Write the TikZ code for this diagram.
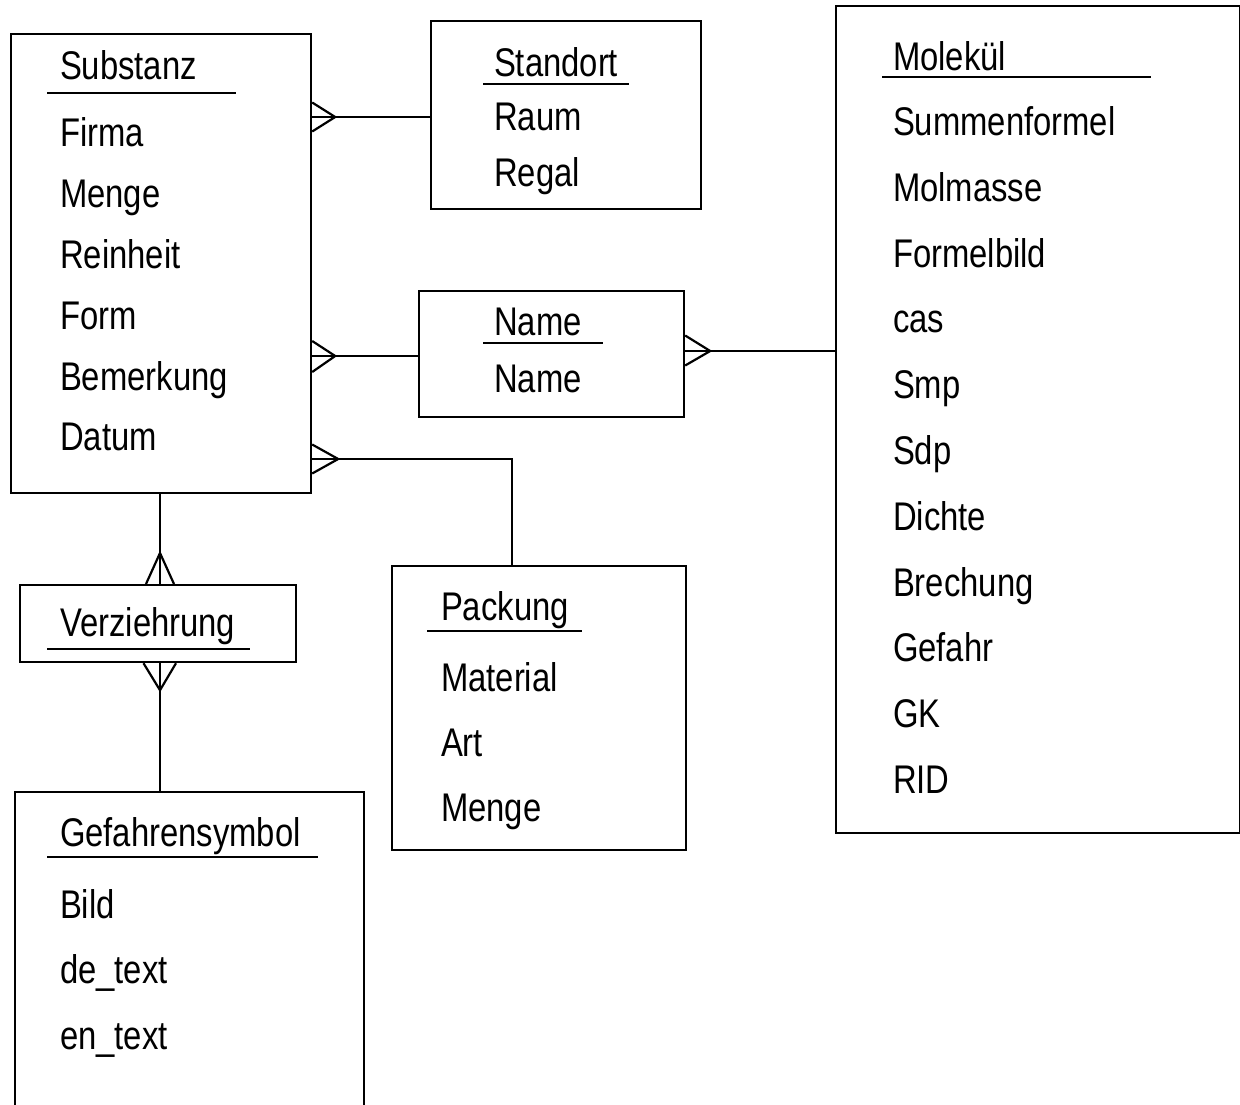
\documentclass[tikz,border=0pt]{standalone}
\usepackage{fontspec}
\setmainfont{Liberation Sans}[FakeStretch=0.82]
\usetikzlibrary{calc}
\begin{document}
\begin{tikzpicture}[x=1pt,y=-1pt,
  every path/.style={line width=2.2pt},
  box/.style={draw, line width=2.2pt, rectangle, inner sep=0pt, anchor=north west},
  lbl/.style={anchor=base west, inner sep=0pt, font=\fontsize{40}{48}\selectfont},
  uline/.style={line width=2.4pt},
  conn/.style={line width=2.2pt}]
\useasboundingbox (0,0) rectangle (1240,1104);
% boxes
\node[box, minimum width=300pt, minimum height=459pt] (sub) at (10,33) {};
\node[box, minimum width=270pt, minimum height=188pt] (std) at (430,20) {};
\node[box, minimum width=265pt, minimum height=126pt] (nam) at (418,290) {};
\node[box, minimum width=404pt, minimum height=827pt] (mol) at (835,5) {};
\node[box, minimum width=276pt, minimum height=77pt] (ver) at (19,584) {};
\node[box, minimum width=294pt, minimum height=284pt] (pac) at (391,565) {};
\node[anchor=north west, inner sep=0pt, minimum width=347pt, minimum height=330pt] (gef) at (15,792) {};
\draw (gef.south west) -- (gef.north west) -- (gef.north east) -- (gef.south east);
% Substanz
\node[lbl] (subT) at (59,79) {Substanz};
\draw[uline] (47,93) -- (236,93);
\node[lbl] (s1) at (59,146) {Firma};
\node[lbl] (s2) at (59,207) {Menge};
\node[lbl] (s3) at (59,268) {Reinheit};
\node[lbl] (s4) at (59,329) {Form};
\node[lbl] (s5) at (59,390) {Bemerkung};
\node[lbl] (s6) at (59,450) {Datum};
% Standort
\node[lbl] (stT) at (493,76) {Standort};
\draw[uline] (483,84) -- (629,84);
\node[lbl] (st1) at (493,130) {Raum};
\node[lbl] (st2) at (493,186) {Regal};
% Name
\node[lbl] (nT) at (493,335) {Name};
\draw[uline] (483,343) -- (603,343);
\node[lbl] (n1) at (493,392) {Name};
% Molekuel
\node[lbl] (mT) at (892,70) {Molekül};
\draw[uline] (882,77) -- (1151,77);
\node[lbl] (m1) at (892,135) {Summenformel};
\node[lbl] (m2) at (892,201) {Molmasse};
\node[lbl] (m3) at (892,267) {Formelbild};
\node[lbl] (m4) at (892,332) {cas};
\node[lbl] (m5) at (892,398) {Smp};
\node[lbl] (m6) at (892,464) {Sdp};
\node[lbl] (m7) at (892,530) {Dichte};
\node[lbl] (m8) at (892,596) {Brechung};
\node[lbl] (m9) at (892,661) {Gefahr};
\node[lbl] (m10) at (892,727) {GK};
\node[lbl] (m11) at (892,793) {RID};
% Verziehrung
\node[lbl] (vT) at (59,636) {Verziehrung};
\draw[uline] (47,649) -- (250,649);
% Packung
\node[lbl] (pT) at (440,620) {Packung};
\draw[uline] (427,631) -- (582,631);
\node[lbl] (p1) at (440,691) {Material};
\node[lbl] (p2) at (440,756) {Art};
\node[lbl] (p3) at (440,821) {Menge};
% Gefahrensymbol
\node[lbl] (gT) at (59,846) {Gefahrensymbol};
\draw[uline] (47,857) -- (318,857);
\node[lbl] (g1) at (59,918) {Bild};
\node[lbl] (g2) at (59,983) {de\_text};
\node[lbl] (g3) at (59,1049) {en\_text};
% connectors
\coordinate (c1) at (sub.east |- 0,117);
\draw[conn] (c1) -- (std.west |- 0,117);
\draw[conn] ($(c1)+(0,-14.5)$) -- ($(c1)+(23,0)$) -- ($(c1)+(0,14.5)$);
\coordinate (c2) at (sub.east |- 0,356);
\draw[conn] (c2) -- (nam.west |- 0,356);
\draw[conn] ($(c2)+(0,-15)$) -- ($(c2)+(23,0)$) -- ($(c2)+(0,16)$);
\coordinate (c3) at (sub.east |- 0,459);
\coordinate (c3b) at (512,459);
\draw[conn] (c3) -- (c3b) -- (pac.north -| c3b);
\draw[conn] ($(c3)+(0,-14.5)$) -- ($(c3)+(26,0)$) -- ($(c3)+(0,14.5)$);
\coordinate (c4) at (ver.north -| 160,0);
\draw[conn] (sub.south -| 160,0) -- (c4);
\draw[conn] ($(c4)+(-14,0)$) -- ($(c4)+(0,-31)$) -- ($(c4)+(14,0)$);
\coordinate (c5) at (ver.south -| 160,0);
\draw[conn] (c5) -- (gef.north -| 160,0);
\draw[conn] ($(c5)+(-16.5,0)$) -- ($(c5)+(0,27)$) -- ($(c5)+(16,0)$);
\coordinate (c6) at (nam.east |- 0,351);
\draw[conn] (c6) -- (mol.west |- 0,351);
\draw[conn] ($(c6)+(0,-15.5)$) -- ($(c6)+(25,0)$) -- ($(c6)+(0,14.5)$);
\end{tikzpicture}
\end{document}
